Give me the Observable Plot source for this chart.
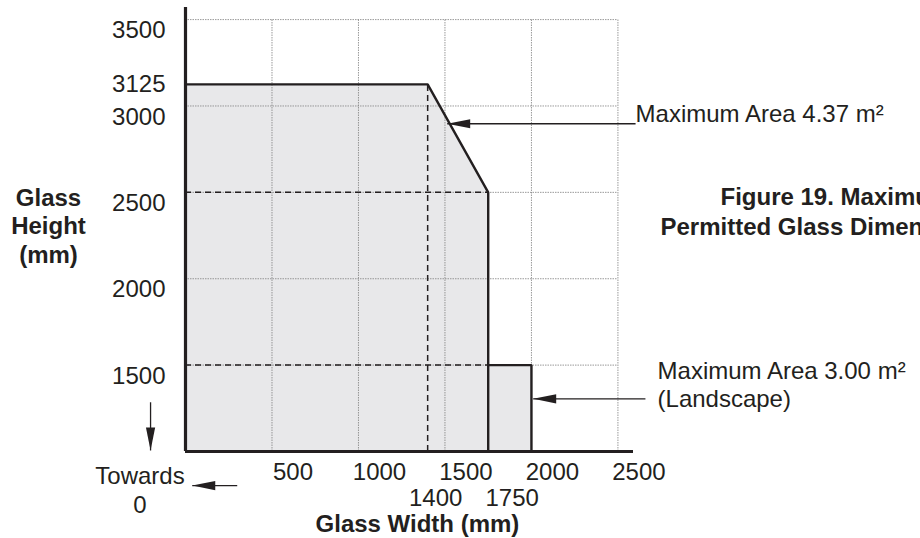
<!DOCTYPE html>
<html>
<head>
<meta charset="utf-8">
<script src="https://cdn.jsdelivr.net/npm/d3@7"></script>
<script src="https://cdn.jsdelivr.net/npm/@observablehq/plot@0.6"></script>
<style>
  html, body { margin: 0; padding: 0; background: #fff; overflow: hidden; }
  #chart { width: 920px; height: 538px; }
</style>
</head>
<body>
<div id="chart"></div>
<script>
// ---- Data ----
const xTickValues = [500, 1000, 1500, 2000, 2500];
const yTickValues = [3500, 3000, 2500, 2000, 1500];
const markedHeights = [3125];
const gridXValues = [500, 1000, 1500, 2000, 2500];
const gridYValues = [1500, 2000, 2500, 3000, 3500];

// Portrait envelope (max area 4.37 m²)
const portraitWidth  = [0, 1400, 1750, 1750];
const portraitHeight = [3125, 3125, 2500, 1000];
// Landscape envelope (max area 3.00 m²)
const landscapeWidth  = [1750, 2000, 2000];
const landscapeHeight = [1500, 1500, 1000];

// Reference (dashed) lines
const dashedHeights = [2500, 1500];
const dashedWidths = [1400];
const markedWidths = [1400, 1750];

// Annotations (data units)
const annotationText = ["Maximum Area 4.37 m²", "Maximum Area 3.00 m²\n(Landscape)"];
const annotationX = [2602, 2729];
const annotationY = [2959, 1388];

const arrowX1 = [2602, 2659, -202, 299];
const arrowY1 = [2897, 1305, 1285, 803];
const arrowX2 = [1513, 2010, -202, 39];
const arrowY2 = [2897, 1305, 1006, 803];

const xTitle = "Glass Width (mm)";
const yTitle = "Glass\nHeight\n(mm)";
const towardsText = "Towards\n0";
const figureTitle = ["Figure 19. Maximum", "Permitted Glass Dimensions"];
const figureTitleX = [3093, 2746];
const figureTitleY = [2470, 2297];

// ---- Drawing ----
const ink = "#231f20";
const font = "'Liberation Sans', Arial, Helvetica, sans-serif";
const idx = (a) => a.map((_, i) => i);

const headSymbol = {
  draw(ctx) {
    ctx.moveTo(0, 0);
    ctx.lineTo(23, -4.6);
    ctx.lineTo(23, 4.6);
    ctx.closePath();
  }
};
const arrowRotate = (i) =>
  arrowX1[i] === arrowX2[i]
    ? (arrowY1[i] > arrowY2[i] ? -90 : 90)
    : (arrowX1[i] > arrowX2[i] ? 0 : 180);

const chart = Plot.plot({
  width: 920,
  height: 538,
  marginLeft: 185,
  marginRight: 287,
  marginTop: 7,
  marginBottom: 87,
  x: { domain: [0, 2590], axis: null },
  y: { domain: [1000, 3570], axis: null },
  style: { fontFamily: font, fontSize: "24px", color: ink, background: "#fff", overflow: "visible" },
  marks: [
    // fills
    Plot.area(idx(portraitWidth), { x1: (i) => portraitWidth[i], y1: 1000, y2: (i) => portraitHeight[i], fill: "#e8e8ea" }),
    Plot.area(idx(landscapeWidth), { x1: (i) => landscapeWidth[i], y1: 1000, y2: (i) => landscapeHeight[i], fill: "#e8e8ea" }),
    // grid
    Plot.ruleX(gridXValues, { x: (d) => d, y1: 1000, y2: 3500, stroke: "#808080", strokeWidth: 0.8, strokeDasharray: "1.5,1" }),
    Plot.ruleY(gridYValues, { y: (d) => d, x1: 0, x2: 2500, stroke: "#808080", strokeWidth: 0.8, strokeDasharray: "1.5,1" }),
    // dashed reference lines
    Plot.ruleY(dashedHeights, { y: (d) => d, x1: 0, x2: 1750, stroke: ink, strokeWidth: 1.5, strokeDasharray: "6,4" }),
    Plot.ruleX(dashedWidths, { x: (d) => d, y1: 1000, y2: 3125, stroke: ink, strokeWidth: 1.5, strokeDasharray: "6,4" }),
    // envelope outlines
    Plot.line(idx(portraitWidth), { x: (i) => portraitWidth[i], y: (i) => portraitHeight[i], stroke: ink, strokeWidth: 2.4, strokeLinejoin: "miter" }),
    Plot.line(idx(landscapeWidth), { x: (i) => landscapeWidth[i], y: (i) => landscapeHeight[i], stroke: ink, strokeWidth: 2.4, strokeLinejoin: "miter" }),
    // axes lines
    Plot.ruleX([0], { y1: 1000, y2: 3570, stroke: ink, strokeWidth: 3.2 }),
    Plot.ruleY([1000], { x1: 0, x2: 2590, stroke: ink, strokeWidth: 3.2 }),
    // tick labels
    Plot.text(xTickValues, { x: (d) => d, y: 1000, text: (d) => String(d), dx: 21, dy: 21, fill: ink, fontSize: 24 }),
    Plot.text(markedWidths.slice(0, 1), { x: (d) => d, y: 1000, text: (d) => String(d), dx: 8, dy: 47, fill: ink, fontSize: 24 }),
    Plot.text(markedWidths.slice(1), { x: (d) => d, y: 1000, text: (d) => String(d), dx: 24, dy: 47, fill: ink, fontSize: 24 }),
    Plot.text(yTickValues, { x: 0, y: (d) => d, text: (d) => String(d), textAnchor: "end", dx: -20, dy: 11, fill: ink, fontSize: 24 }),
    Plot.text(markedHeights, { x: 0, y: (d) => d, text: (d) => String(d), textAnchor: "end", dx: -20, dy: 0, fill: ink, fontSize: 24 }),
    // titles
    Plot.text([xTitle], { x: 1341, y: 578, text: (d) => d, fontWeight: "bold", fill: ink, fontSize: 24 }),
    Plot.text([yTitle], { x: -792, y: 2310, text: (d) => d, fontWeight: "bold", fill: ink, fontSize: 24, lineHeight: 1.2 }),
    Plot.text(idx(figureTitle), { x: (i) => figureTitleX[i], y: (i) => figureTitleY[i], text: (i) => figureTitle[i], textAnchor: "start", fontWeight: "bold", fill: ink, fontSize: 24 }),
    Plot.text([towardsText], { x: -263, y: 780, text: (d) => d, fill: ink, fontSize: 24, lineHeight: 1.17 }),
    // annotations
    Plot.text(idx(annotationText), { x: (i) => annotationX[i], y: (i) => annotationY[i], text: (i) => annotationText[i], textAnchor: "start", fill: ink, fontSize: 24, lineHeight: 1.17 }),
    Plot.link(idx(arrowX1), { x1: (i) => arrowX1[i], y1: (i) => arrowY1[i], x2: (i) => arrowX2[i], y2: (i) => arrowY2[i], stroke: ink, strokeWidth: 1.3 }),
    Plot.dot(idx(arrowX1), { x: (i) => arrowX2[i], y: (i) => arrowY2[i], symbol: headSymbol, rotate: arrowRotate, fill: ink, stroke: "none" })
  ]
});
document.getElementById("chart").append(chart);
</script>
</body>
</html>
